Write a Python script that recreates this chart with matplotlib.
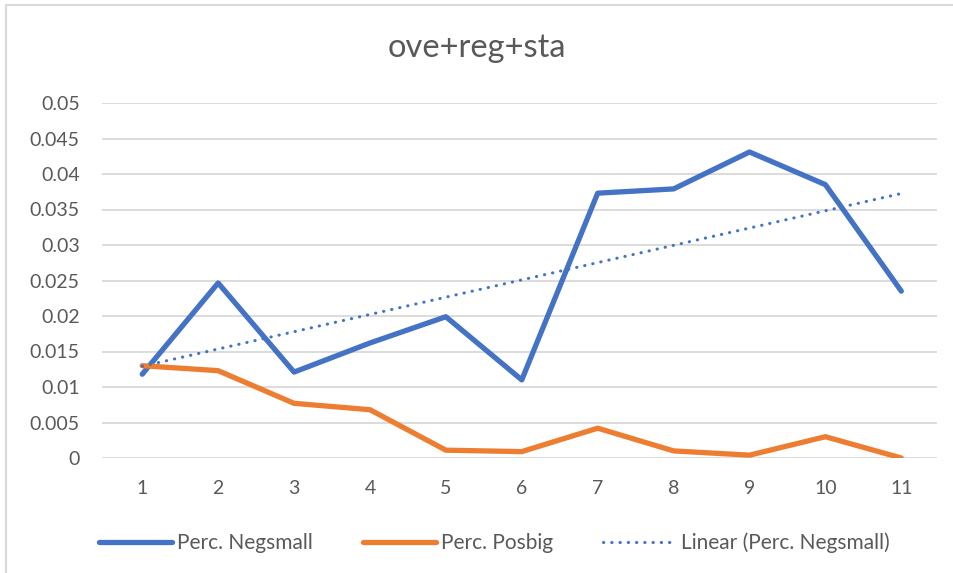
import numpy as np
import matplotlib.pyplot as plt
from matplotlib.patches import Rectangle

plt.rcParams['font.family'] = ['Lato', 'DejaVu Sans']

x = np.arange(1, 12)
negsmall = [0.0118, 0.02465, 0.0121, 0.0162, 0.0199, 0.0110,
            0.0373, 0.0379, 0.0431, 0.0385, 0.0235]
posbig = [0.0130, 0.0123, 0.0077, 0.0068, 0.0011, 0.0009,
          0.0042, 0.0010, 0.0004, 0.0030, 0.0000]

blue = '#4472C4'
orange = '#ED7D31'
txt = '#595959'

fig = plt.figure(figsize=(9.54, 5.73), dpi=100)
ax = fig.add_axes([102/954, 1 - 458/573, 835/954, 355/573])

# linear trendline of the blue series (as Excel does)
k, b = np.polyfit(x, negsmall, 1)

ax.plot(x, negsmall, color=blue, lw=3.8, solid_capstyle='round',
        solid_joinstyle='round', label='Perc. Negsmall', zorder=3)
ax.plot(x, posbig, color=orange, lw=3.8, solid_capstyle='round',
        solid_joinstyle='round', label='Perc. Posbig', zorder=3)
ax.plot(x, k * x + b, color=blue, lw=2.2, linestyle=(0, (0.1, 2.6)),
        dash_capstyle='round', label='Linear (Perc. Negsmall)', zorder=4)

ax.set_xlim(0.47, 11.47)
ax.set_ylim(0, 0.05)
ax.set_yticks(np.arange(0, 0.0501, 0.005))
ax.set_yticklabels(['0', '0.005', '0.01', '0.015', '0.02', '0.025',
                    '0.03', '0.035', '0.04', '0.045', '0.05'])
ax.set_xticks(x)
ax.tick_params(length=0, labelsize=14, colors=txt)
ax.tick_params(axis='x', pad=16)
ax.tick_params(axis='y', pad=16)
ax.grid(axis='y', color='#D9D9D9', lw=1.3)
ax.set_axisbelow(True)
for s in ax.spines.values():
    s.set_visible(False)

fig.text(0.5, 1 - 48/573, 'ove+reg+sta', ha='center', va='center',
         fontsize=23.5, color=txt)

leg = fig.legend(loc='center', bbox_to_anchor=(0.518, 1 - 543/573), ncol=3,
                 frameon=False, fontsize=15, handlelength=3.5,
                 handletextpad=0.25, columnspacing=2.4)
for t in leg.get_texts():
    t.set_color(txt)

# chart frame
fig.patches.append(Rectangle((6/954, -0.1), 1.2, 1.1 - 5/573, transform=fig.transFigure,
                             fill=False, edgecolor='#D9D9D9', lw=1.5))

fig.savefig('out.png', dpi=100)
